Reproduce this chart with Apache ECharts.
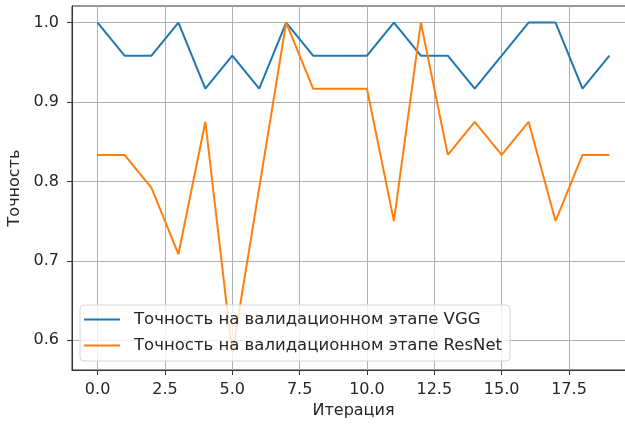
<!DOCTYPE html>
<html>
<head>
<meta charset="utf-8">
<script src="https://cdn.jsdelivr.net/npm/echarts@6/dist/echarts.min.js"></script>
<style>
  html, body { margin: 0; padding: 0; background: #fff; }
  #chart { width: 625px; height: 424px; }
</style>
</head>
<body>
<div id="chart"></div>
<script>
// Validation accuracy per iteration for two models
const iterations = [0, 1, 2, 3, 4, 5, 6, 7, 8, 9, 10, 11, 12, 13, 14, 15, 16, 17, 18, 19];
const vggAccuracy = [1.0, 0.9583, 0.9583, 1.0, 0.9167, 0.9583, 0.9167, 1.0, 0.9583, 0.9583,
                     0.9583, 1.0, 0.9583, 0.9583, 0.9167, 0.9583, 1.0, 1.0, 0.9167, 0.9583];
const resnetAccuracy = [0.8333, 0.8333, 0.7917, 0.7083, 0.875, 0.5833, 0.7917, 1.0, 0.9167, 0.9167,
                        0.9167, 0.75, 1.0, 0.8333, 0.875, 0.8333, 0.875, 0.75, 0.8333, 0.8333];
const xTicks = [0, 2.5, 5, 7.5, 10, 12.5, 15, 17.5];
const yTicks = [0.6, 0.7, 0.8, 0.9, 1.0];
const seriesNames = ['Точность на валидационном этапе VGG', 'Точность на валидационном этапе ResNet'];

const FONT = 'DejaVu Sans';
const TEXT = '#262626';
const gridLine = { show: true, lineStyle: { color: '#b0b0b0', width: 1 } };
const spine = { show: true, onZero: false, lineStyle: { color: '#333', width: 1 } };
const tick = { show: true, inside: false, length: 5, lineStyle: { color: '#333', width: 1 } };

const chart = echarts.init(document.getElementById('chart'), null, { renderer: 'canvas' });
chart.setOption({
  animation: false,
  backgroundColor: '#fff',
  textStyle: { fontFamily: FONT },
  // plot box runs past the right edge of the canvas
  grid: { left: 72, top: 6, width: 563, bottom: 54, outerBoundsMode: 'none', containLabel: false,
          show: true, borderColor: '#333', borderWidth: 1, backgroundColor: 'transparent' },
  legend: {
    data: seriesNames,
    orient: 'vertical',
    left: 80,
    bottom: 63,
    icon: 'rect',
    itemWidth: 36,
    itemHeight: 2,
    itemGap: 9,
    padding: [6, 8, 7, 4],
    backgroundColor: 'rgba(255,255,255,0.8)',
    borderColor: '#d6d6d6',
    borderWidth: 1,
    borderRadius: 4,
    textStyle: { fontFamily: FONT, fontSize: 16.5, lineHeight: 16, color: TEXT, padding: [0, 0, 0, 9] }
  },
  xAxis: {
    type: 'value',
    min: -0.95,
    max: 19.95,
    name: 'Итерация',
    nameLocation: 'middle',
    nameGap: 33,
    nameTextStyle: { fontFamily: FONT, fontSize: 16, color: TEXT },
    axisLine: spine,
    axisTick: Object.assign({ customValues: xTicks }, tick),
    axisLabel: { customValues: xTicks, margin: 12, fontFamily: FONT, fontSize: 16, color: TEXT,
                 formatter: v => v.toFixed(1) },
    splitLine: gridLine
  },
  yAxis: {
    type: 'value',
    min: 0.5625,
    max: 1.0208,
    name: 'Точность',
    nameLocation: 'middle',
    nameGap: 49,
    nameTextStyle: { fontFamily: FONT, fontSize: 16, color: TEXT },
    axisLine: spine,
    axisTick: Object.assign({ customValues: yTicks }, tick),
    axisLabel: { customValues: yTicks, margin: 13, fontFamily: FONT, fontSize: 16, color: TEXT,
                 formatter: v => v.toFixed(1) },
    splitLine: gridLine
  },
  series: [
    {
      name: seriesNames[0],
      type: 'line',
      data: iterations.map((x, i) => [x, vggAccuracy[i]]),
      showSymbol: false,
      symbol: 'none',
      color: '#1f77b4',
      lineStyle: { color: '#1f77b4', width: 2 },
      z: 3
    },
    {
      name: seriesNames[1],
      type: 'line',
      data: iterations.map((x, i) => [x, resnetAccuracy[i]]),
      showSymbol: false,
      symbol: 'none',
      color: '#ff7f0e',
      lineStyle: { color: '#ff7f0e', width: 2 },
      z: 3
    }
  ]
});
</script>
</body>
</html>
